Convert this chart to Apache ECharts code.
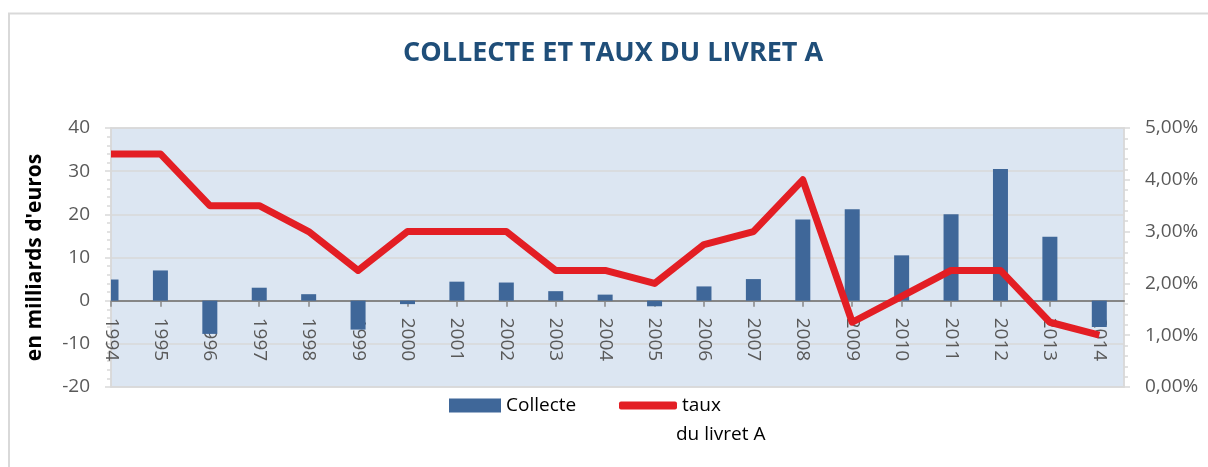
<!DOCTYPE html>
<html>
<head>
<meta charset="utf-8">
<script src="https://cdn.jsdelivr.net/npm/echarts@6/dist/echarts.min.js"></script>
<style>
html,body{margin:0;padding:0;background:#fff;}
#chart{width:1208px;height:467px;}
</style>
</head>
<body>
<div id="chart"></div>
<script>
var years = [1994,1995,1996,1997,1998,1999,2000,2001,2002,2003,2004,2005,2006,2007,2008,2009,2010,2011,2012,2013,2014];
var collecte = [4.9,7.0,-7.7,3.0,1.5,-6.7,-0.8,4.4,4.2,2.2,1.4,-1.3,3.3,5.0,18.8,21.2,10.5,20.0,30.5,14.8,-6.1];
var taux = [4.5,4.5,3.5,3.5,3.0,2.25,3.0,3.0,3.0,2.25,2.25,2.0,2.75,3.0,4.0,1.25,1.75,2.25,2.25,1.25,1.0];
var leftTicks = [-20,-10,0,10,20,30,40];
var rightTicks = [0,1,2,3,4,5];

var FONT = "'Open Sans', 'Liberation Sans', sans-serif";
var BAR_COLOR = '#3F6799';
var LINE_COLOR = '#E31E24';
var chart = echarts.init(document.getElementById('chart'));
var barData = years.map(function(y,i){return [y, collecte[i]];});
var lineData = years.map(function(y,i){return [y, taux[i]];});

var GRID_TOP = 128, GRID_BOTTOM = 80, H = 467;
var plotH = H - GRID_TOP - GRID_BOTTOM;
var zeroY = GRID_TOP + plotH * (leftTicks[leftTicks.length-1] / (leftTicks[leftTicks.length-1] - leftTicks[0]));
var xOffset = zeroY - (H - GRID_BOTTOM);

function renderBar(params, api) {
  var x = api.value(0), v = api.value(1);
  var p0 = api.coord([x, 0]);
  var p1 = api.coord([x, v]);
  var w = 15;
  var cs = params.coordSys;
  var rect = echarts.graphic.clipRectByRect(
    {x: p0[0] - w / 2, y: Math.min(p0[1], p1[1]), width: w, height: Math.abs(p1[1] - p0[1])},
    {x: cs.x, y: cs.y, width: cs.width, height: cs.height}
  );
  if (!rect) return null;
  return {type: 'rect', shape: rect, style: {fill: BAR_COLOR}};
}

chart.setOption({
  backgroundColor: '#ffffff',
  animation: false,
  title: {
    text: 'COLLECTE ET TAUX DU LIVRET A',
    left: 398,
    top: 35,
    textStyle: {fontFamily: FONT, fontWeight: 'bold', fontSize: 27, color: '#1F4E79'}
  },
  graphic: [
    {type: 'line', shape: {x1: 8, y1: 13.5, x2: 1208, y2: 13.5}, style: {stroke: '#D9D9D9', lineWidth: 2}},
    {type: 'line', shape: {x1: 9, y1: 13, x2: 9, y2: 467}, style: {stroke: '#D9D9D9', lineWidth: 2}},
    {type: 'text', left: 676, top: 425, style: {text: 'du livret A', font: "19px 'Open Sans', sans-serif", fill: '#000000'}}
  ],
  legend: [
    {
      data: [{name: 'Collecte', icon: 'rect'}], left: 444, top: 391, itemWidth: 52, itemHeight: 14, itemGap: 5,
      itemStyle: {color: BAR_COLOR, borderWidth: 0},
      textStyle: {fontFamily: FONT, fontSize: 19, color: '#000000'}
    },
    {
      data: [{name: 'taux du livret A', icon: 'roundRect'}], left: 614, top: 391, itemWidth: 58, itemHeight: 8,
      formatter: function(){ return 'taux'; },
      itemStyle: {color: LINE_COLOR, borderWidth: 0},
      textStyle: {fontFamily: FONT, fontSize: 19, color: '#000000'}
    }
  ],
  grid: {
    left: 111, right: 84, top: GRID_TOP, bottom: GRID_BOTTOM,
    show: true, backgroundColor: '#DCE6F2', borderColor: '#D9D9D9', borderWidth: 1.5
  },
  xAxis: {
    type: 'value', min: 1994, max: 2014.5, interval: 1,
    offset: xOffset,
    axisLine: {onZero: false, lineStyle: {color: '#868686', width: 2}},
    axisTick: {show: true, length: 6, customValues: years, lineStyle: {color: '#868686', width: 1.5}},
    axisLabel: {
      customValues: years, rotate: -90, margin: 17,
      fontFamily: FONT, fontSize: 19, color: '#595959',
      formatter: function(v){ return String(v); }
    },
    splitLine: {show: false}
  },
  yAxis: [
    {
      type: 'value', min: leftTicks[0], max: leftTicks[leftTicks.length-1], interval: 10,
      name: "en milliards d'euros", nameLocation: 'middle', nameGap: 65, nameRotate: 90,
      nameTextStyle: {fontFamily: FONT, fontWeight: 'bold', fontSize: 21, color: '#000000'},
      axisLine: {show: true, lineStyle: {color: '#D9D9D9', width: 1.5}},
      axisTick: {show: true, length: 6, lineStyle: {color: '#D9D9D9', width: 1.5}},
      minorTick: {show: true, splitNumber: 5, length: 4, lineStyle: {color: '#D9D9D9', width: 1.5}},
      axisLabel: {margin: 21, fontFamily: FONT, fontSize: 19, color: '#595959'},
      splitLine: {show: true, lineStyle: {color: '#D9D9D9', width: 1.5}}
    },
    {
      type: 'value', min: rightTicks[0], max: rightTicks[rightTicks.length-1], interval: 1, position: 'right',
      axisLine: {show: true, lineStyle: {color: '#D9D9D9', width: 1.5}},
      axisTick: {show: true, length: 6, lineStyle: {color: '#D9D9D9', width: 1.5}},
      minorTick: {show: true, splitNumber: 5, length: 4, lineStyle: {color: '#D9D9D9', width: 1.5}},
      axisLabel: {margin: 21, fontFamily: FONT, fontSize: 19, color: '#595959',
        formatter: function(v){ return v.toFixed(2).replace('.', ',') + '%'; }},
      splitLine: {show: false}
    }
  ],
  series: [
    {
      name: 'Collecte', type: 'custom', data: barData, renderItem: renderBar,
      encode: {x: 0, y: 1},
      itemStyle: {color: BAR_COLOR}, yAxisIndex: 0, z: 2
    },
    {
      name: 'taux du livret A', type: 'line', data: lineData, yAxisIndex: 1,
      showSymbol: false, symbol: 'none', clip: true,
      lineStyle: {color: LINE_COLOR, width: 7, cap: 'butt', join: 'round'},
      itemStyle: {color: LINE_COLOR}, z: 3
    }
  ]
});
</script>
</body>
</html>
